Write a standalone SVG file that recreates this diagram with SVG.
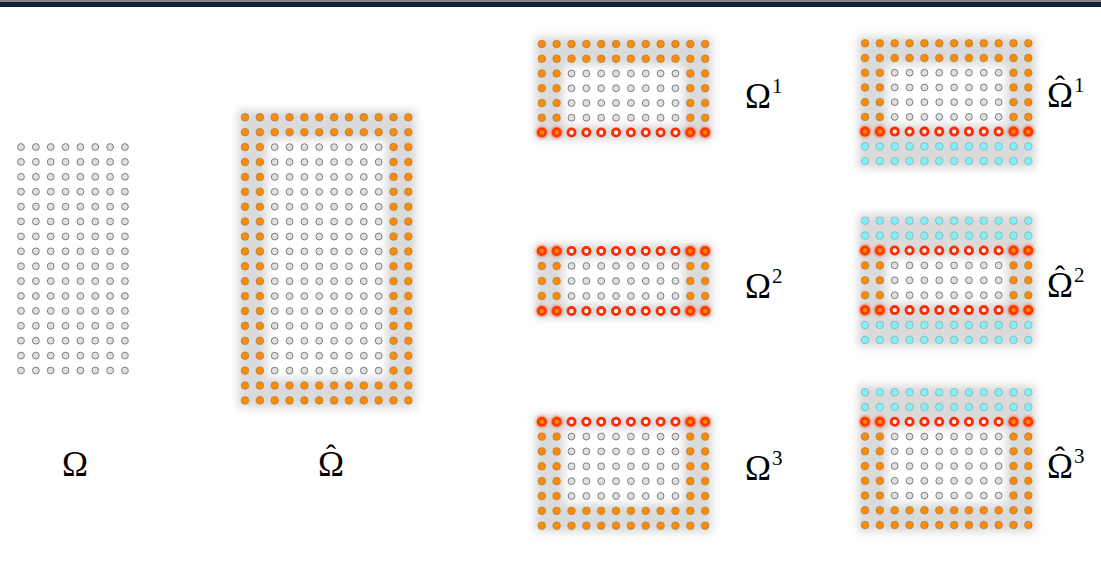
<svg xmlns="http://www.w3.org/2000/svg" xmlns:xlink="http://www.w3.org/1999/xlink" width="1101" height="562" viewBox="0 0 1101 562">
<style>
.wd{fill:#e0e0e0;stroke:#707070;stroke-width:0.9}
.od{fill:#ff8c00;stroke:#9c7a55;stroke-width:0.7}
.cd{fill:#80f2f7;stroke:#8aa6a8;stroke-width:0.7}
.rd{fill:#ffffff;stroke:#ff2a00;stroke-width:2.8}
.ro{fill:#ff8c00;stroke:#ff3800;stroke-width:2.8}
.lbl{font-family:"Liberation Serif","DejaVu Serif",serif;font-size:35px;fill:#000}
.hat{font-family:"Liberation Serif","DejaVu Serif",serif;font-size:30px;fill:#000;text-anchor:middle}
.sup{font-size:21px}
.shg{fill:#dadada}
.shw{fill:#ffffff}
</style>
<defs>
<filter id="soft" x="-20%" y="-20%" width="140%" height="140%"><feGaussianBlur stdDeviation="4"/></filter>
<filter id="glow" x="-1" y="-1" width="3" height="3"><feGaussianBlur stdDeviation="1.6"/></filter>
<circle id="w" r="3.4" class="wd"/>
<circle id="o" r="3.8" class="od"/>
<circle id="c" r="3.8" class="cd"/>
<circle id="r" r="3.6" class="rd"/>
<g id="q"><circle r="5.8" fill="#ff3000" opacity="0.6" filter="url(#glow)"/><circle r="3.6" class="ro"/></g>
<g id="W8"><use href="#w" x="0"/><use href="#w" x="14.85"/><use href="#w" x="29.7"/><use href="#w" x="44.55"/><use href="#w" x="59.4"/><use href="#w" x="74.25"/><use href="#w" x="89.1"/><use href="#w" x="103.95"/></g>
<g id="O12"><use href="#o" x="0"/><use href="#o" x="14.85"/><use href="#o" x="29.7"/><use href="#o" x="44.55"/><use href="#o" x="59.4"/><use href="#o" x="74.25"/><use href="#o" x="89.1"/><use href="#o" x="103.95"/><use href="#o" x="118.8"/><use href="#o" x="133.65"/><use href="#o" x="148.5"/><use href="#o" x="163.35"/></g>
<g id="C12"><use href="#c" x="0"/><use href="#c" x="14.85"/><use href="#c" x="29.7"/><use href="#c" x="44.55"/><use href="#c" x="59.4"/><use href="#c" x="74.25"/><use href="#c" x="89.1"/><use href="#c" x="103.95"/><use href="#c" x="118.8"/><use href="#c" x="133.65"/><use href="#c" x="148.5"/><use href="#c" x="163.35"/></g>
<g id="I12"><use href="#o" x="0"/><use href="#o" x="14.85"/><use href="#w" x="29.7"/><use href="#w" x="44.55"/><use href="#w" x="59.4"/><use href="#w" x="74.25"/><use href="#w" x="89.1"/><use href="#w" x="103.95"/><use href="#w" x="118.8"/><use href="#w" x="133.65"/><use href="#o" x="148.5"/><use href="#o" x="163.35"/></g>
<g id="R12"><use href="#q" x="0"/><use href="#q" x="14.85"/><use href="#r" x="29.7"/><use href="#r" x="44.55"/><use href="#r" x="59.4"/><use href="#r" x="74.25"/><use href="#r" x="89.1"/><use href="#r" x="103.95"/><use href="#r" x="118.8"/><use href="#r" x="133.65"/><use href="#q" x="148.5"/><use href="#q" x="163.35"/></g>
</defs>
<rect x="0" y="0" width="1101" height="562" fill="#ffffff"/>
<g id="topbar"><rect x="0" y="0" width="1101" height="2" fill="#8a8a8a"/><rect x="0" y="2" width="1101" height="5" fill="#12223c"/></g>

<g id="omega">
<use href="#W8" x="21" y="147"/><use href="#W8" x="21" y="161.9"/><use href="#W8" x="21" y="176.8"/><use href="#W8" x="21" y="191.7"/>
<use href="#W8" x="21" y="206.6"/><use href="#W8" x="21" y="221.5"/><use href="#W8" x="21" y="236.4"/><use href="#W8" x="21" y="251.3"/>
<use href="#W8" x="21" y="266.2"/><use href="#W8" x="21" y="281.1"/><use href="#W8" x="21" y="296"/><use href="#W8" x="21" y="310.9"/>
<use href="#W8" x="21" y="325.8"/><use href="#W8" x="21" y="340.7"/><use href="#W8" x="21" y="355.6"/><use href="#W8" x="21" y="370.5"/>
<text class="lbl" x="75" y="476" text-anchor="middle">Ω</text>
</g>

<g id="omega-hat">
<g filter="url(#soft)"><rect class="shg" x="238" y="110" width="178" height="298"/><rect class="shw" x="267.3" y="139.7" width="118.8" height="238.3"/></g>
<use href="#O12" x="245" y="117.3"/><use href="#O12" x="245" y="132.2"/>
<use href="#I12" x="245" y="147.1"/><use href="#I12" x="245" y="162"/><use href="#I12" x="245" y="176.9"/><use href="#I12" x="245" y="191.8"/>
<use href="#I12" x="245" y="206.7"/><use href="#I12" x="245" y="221.6"/><use href="#I12" x="245" y="236.5"/><use href="#I12" x="245" y="251.4"/>
<use href="#I12" x="245" y="266.3"/><use href="#I12" x="245" y="281.2"/><use href="#I12" x="245" y="296.1"/><use href="#I12" x="245" y="311"/>
<use href="#I12" x="245" y="325.9"/><use href="#I12" x="245" y="340.8"/><use href="#I12" x="245" y="355.7"/><use href="#I12" x="245" y="370.6"/>
<use href="#O12" x="245" y="385.5"/><use href="#O12" x="245" y="400.4"/>
<text class="lbl" x="331" y="476" text-anchor="middle">Ω</text><text class="hat" x="331" y="465">ˆ</text>
</g>

<g id="omega1">
<g filter="url(#soft)"><rect class="shg" x="535" y="37" width="177" height="103"/><rect class="shw" x="564.1" y="66.1" width="118.8" height="59"/></g>
<use href="#O12" x="541.8" y="44"/><use href="#O12" x="541.8" y="58.75"/>
<use href="#I12" x="541.8" y="73.5"/><use href="#I12" x="541.8" y="88.25"/><use href="#I12" x="541.8" y="103"/><use href="#I12" x="541.8" y="117.75"/>
<use href="#R12" x="541.8" y="132.5"/>
<text class="lbl" x="745" y="108">Ω<tspan class="sup" dx="1" dy="-15">1</tspan></text>
</g>

<g id="omega-hat1">
<g filter="url(#soft)"><rect class="shg" x="858" y="36.3" width="177.4" height="132"/><rect class="shw" x="887.3" y="65.3" width="118.8" height="59"/></g>
<use href="#O12" x="865" y="43.3"/><use href="#O12" x="865" y="58.02"/>
<use href="#I12" x="865" y="72.74"/><use href="#I12" x="865" y="87.46"/><use href="#I12" x="865" y="102.18"/><use href="#I12" x="865" y="116.9"/>
<use href="#R12" x="865" y="131.62"/>
<use href="#C12" x="865" y="146.34"/><use href="#C12" x="865" y="161.06"/>
<text class="lbl" x="1047" y="107">Ω<tspan class="sup" dx="1" dy="-15">1</tspan></text><text class="hat" x="1060" y="96">ˆ</text>
</g>

<g id="omega2">
<g filter="url(#soft)"><rect class="shg" x="535" y="244" width="177" height="74"/><rect class="shw" x="564.1" y="258.5" width="118.8" height="45"/></g>
<use href="#R12" x="541.8" y="251"/>
<use href="#I12" x="541.8" y="266"/><use href="#I12" x="541.8" y="281"/><use href="#I12" x="541.8" y="296"/>
<use href="#R12" x="541.8" y="311"/>
<text class="lbl" x="745" y="298">Ω<tspan class="sup" dx="1" dy="-15">2</tspan></text>
</g>

<g id="omega-hat2">
<g filter="url(#soft)"><rect class="shg" x="858" y="213.7" width="177.4" height="133.2"/><rect class="shw" x="887.3" y="258" width="118.8" height="44.6"/></g>
<use href="#C12" x="865" y="220.7"/><use href="#C12" x="865" y="235.6"/>
<use href="#R12" x="865" y="250.5"/>
<use href="#I12" x="865" y="265.4"/><use href="#I12" x="865" y="280.3"/><use href="#I12" x="865" y="295.2"/>
<use href="#R12" x="865" y="310.1"/>
<use href="#C12" x="865" y="325"/><use href="#C12" x="865" y="339.9"/>
<text class="lbl" x="1047" y="297">Ω<tspan class="sup" dx="1" dy="-15">2</tspan></text><text class="hat" x="1060" y="286">ˆ</text>
</g>

<g id="omega3">
<g filter="url(#soft)"><rect class="shg" x="535" y="414.7" width="177" height="118"/><rect class="shw" x="564.1" y="429.1" width="118.8" height="74.3"/></g>
<use href="#R12" x="541.8" y="421.7"/>
<use href="#I12" x="541.8" y="436.56"/><use href="#I12" x="541.8" y="451.42"/><use href="#I12" x="541.8" y="466.28"/><use href="#I12" x="541.8" y="481.14"/><use href="#I12" x="541.8" y="496"/>
<use href="#O12" x="541.8" y="510.86"/><use href="#O12" x="541.8" y="525.72"/>
<text class="lbl" x="745" y="480">Ω<tspan class="sup" dx="1" dy="-15">3</tspan></text>
</g>

<g id="omega-hat3">
<g filter="url(#soft)"><rect class="shg" x="858" y="385.3" width="177.4" height="146.7"/><rect class="shw" x="887.3" y="429.1" width="118.8" height="73.9"/></g>
<use href="#C12" x="865" y="392.3"/><use href="#C12" x="865" y="407.05"/>
<use href="#R12" x="865" y="421.8"/>
<use href="#I12" x="865" y="436.55"/><use href="#I12" x="865" y="451.3"/><use href="#I12" x="865" y="466.05"/><use href="#I12" x="865" y="480.8"/><use href="#I12" x="865" y="495.55"/>
<use href="#O12" x="865" y="510.3"/><use href="#O12" x="865" y="525.05"/>
<text class="lbl" x="1047" y="478">Ω<tspan class="sup" dx="1" dy="-15">3</tspan></text><text class="hat" x="1060" y="467">ˆ</text>
</g>
</svg>
